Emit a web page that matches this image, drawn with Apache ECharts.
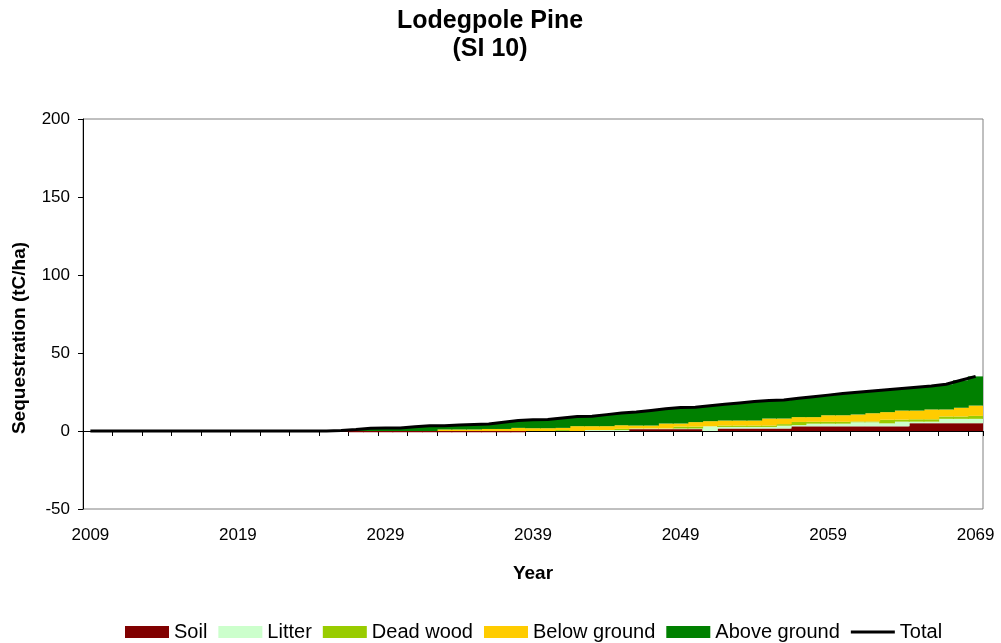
<!DOCTYPE html>
<html>
<head>
<meta charset="utf-8">
<script src="https://cdn.jsdelivr.net/npm/echarts@6/dist/echarts.min.js"></script>
<style>
html,body{margin:0;padding:0;background:#fff;}
#chart{width:1001px;height:643px;}
</style>
</head>
<body>
<div id="chart"></div>
<script>
var years = ["2009","2010","2011","2012","2013","2014","2015","2016","2017","2018",
"2019","2020","2021","2022","2023","2024","2025","2026","2027","2028",
"2029","2030","2031","2032","2033","2034","2035","2036","2037","2038",
"2039","2040","2041","2042","2043","2044","2045","2046","2047","2048",
"2049","2050","2051","2052","2053","2054","2055","2056","2057","2058",
"2059","2060","2061","2062","2063","2064","2065","2066","2067","2068","2069"];

var soil = [0,0,0,0,0,0,0,0,0,0,
-0.4,-0.4,-0.4,-0.4,-0.4,-0.4,-0.4,-0.4,-0.8,-0.8,
-0.8,-0.8,-0.8,-0.8,-0.8,-0.8,-0.8,-0.8,-0.8,-0.8,
0,0,0,0,0,0,0,1.2,1.2,1.2,
1.2,1.2,0,1.6,1.6,1.6,1.6,1.6,3.0,3.0,
3.0,3.0,3.0,3.0,3.0,3.0,5.0,5.0,5.0,5.0,5.0];

var litter = [0,0,0,0,0,0,0,0,0,0,
0,0,0,0,0,0,0,0,0,0,
0,0,0,0,0,0,0,0,0,0,
0,0,0,0,0.6,0.6,0.6,0.4,0.4,0.4,
0.4,0.4,3.0,1.0,1.0,1.0,1.0,1.8,0.8,1.7,
1.7,1.7,2.6,2.6,1.9,3.0,1.0,1.0,2.8,2.8,2.8];

var deadWood = [0,0,0,0,0,0,0,0,0,0,
0,0,0,0,0,0,0,0,0,0,
0,0,0,0,0,0,0,0,0,0,
0,0,0.6,0,0,0,0.8,0,0,0,
1.2,1.2,0,0.9,0.9,0.9,0.9,1.0,2.0,1.2,
1.2,1.2,0.5,0.5,2.3,1.3,1.5,1.5,1.5,1.5,1.9];

var belowGround = [0,0,0,0,0,0,0,0,0.3,0.3,
0,0,0,0,0,0,0,0,0,0,
0,0,0,0,1.0,1.0,1.0,1.3,1.3,2.0,
1.8,1.8,1.4,3.1,2.5,2.5,2.3,1.9,1.9,3.2,
2.0,2.9,3.3,3.2,3.2,3.2,4.5,3.6,3.1,3.0,
4.2,4.2,4.5,5.3,4.9,5.8,5.6,6.3,4.5,5.6,6.6];

var aboveGround = [0,0,0,0,0,0,0,0,0,0,
0,0,0,0,0,0,0,0.3,1.0,1.8,
2.0,2.0,2.7,3.3,2.4,2.8,3.2,3.2,4.3,4.7,
5.4,5.6,6.4,6.2,6.4,7.4,7.8,8.7,9.7,9.4,
10.2,9.6,9.9,10.4,11.3,12.2,11.6,11.8,12.1,13.1,
12.9,13.9,14.2,14.2,14.3,14.1,14.9,15.0,16.2,17.6,18.7];

var total = [0,0,0,0,0,0,0,0,0,0,
0,0,0,0,0,0,0,0.3,1.0,1.8,
2.0,2.0,2.7,3.3,3.4,3.8,4.2,4.5,5.6,6.7,
7.2,7.4,8.4,9.3,9.5,10.5,11.5,12.2,13.2,14.2,
15.0,15.3,16.2,17.1,18.0,18.9,19.6,19.8,21.0,22.0,
23.0,24.0,24.8,25.6,26.4,27.2,28.0,28.8,30.0,32.5,35.0];

var yTicks = {min: -50, max: 200, interval: 50};

var font = "'Liberation Sans', Arial, sans-serif";
var chart = echarts.init(document.getElementById('chart'), null, {renderer: 'canvas'});

function barSeries(name, data, color) {
  return {
    name: name, type: 'bar', stack: 'seq', data: data,
    barWidth: '106%', barGap: '0%',
    itemStyle: {color: color, borderWidth: 0},
    emphasis: {disabled: true},
    animation: false
  };
}

var option = {
  animation: false,
  backgroundColor: '#ffffff',
  textStyle: {fontFamily: font},
  grid: {left: 83, right: 18, top: 119, bottom: 134, show: true, borderColor: '#808080', borderWidth: 1, containLabel: false},
  graphic: [
    {type: 'text', x: 490, y: 7, style: {text: 'Lodegpole Pine\n(SI 10)', font: 'bold 25px ' + font, fill: '#000', align: 'center', verticalAlign: 'top', lineHeight: 28}},
    {type: 'text', x: 10, y: 338, rotation: Math.PI / 2, style: {text: 'Sequestration (tC/ha)', font: 'bold 19px ' + font, fill: '#000', align: 'center', verticalAlign: 'top'}}
  ],
  legend: {
    left: 120, top: 617,
    itemWidth: 44, itemHeight: 12, itemGap: 11,
    textStyle: {fontSize: 20, color: '#000', fontFamily: font},
    selectedMode: false,
    data: [
      {name: 'Soil', icon: 'rect'},
      {name: 'Litter', icon: 'rect'},
      {name: 'Dead wood', icon: 'rect'},
      {name: 'Below ground', icon: 'rect'},
      {name: 'Above ground', icon: 'rect'},
      {name: 'Total', icon: 'path://M0,0 M0,4.5 L44,4.5 L44,7.5 L0,7.5 Z M44,12'}
    ]
  },
  xAxis: [
    {
      type: 'category', data: years, boundaryGap: true, position: 'bottom',
      axisLine: {show: true, onZero: true, lineStyle: {color: '#000', width: 1}},
      axisTick: {show: true, interval: 1, length: 5, lineStyle: {color: '#000'}},
      axisLabel: {show: false},
      splitLine: {show: false}
    },
    {
      type: 'category', data: years, boundaryGap: true, position: 'bottom', gridIndex: 0,
      axisLine: {show: false, onZero: false},
      axisTick: {show: false},
      axisLabel: {show: true, interval: 9, margin: 18, fontSize: 17, color: '#000', fontFamily: font},
      name: 'Year', nameLocation: 'middle', nameGap: 55,
      nameTextStyle: {fontSize: 19, fontWeight: 'bold', color: '#000', fontFamily: font},
      splitLine: {show: false}
    }
  ],
  yAxis: {
    type: 'value', min: yTicks.min, max: yTicks.max, interval: yTicks.interval,
    axisLine: {show: true, lineStyle: {color: '#000', width: 1}},
    axisTick: {show: true, length: 5, lineStyle: {color: '#000'}},
    axisLabel: {fontSize: 17, color: '#000', margin: 13, fontFamily: font},
    splitLine: {show: false}
  },
  series: [
    barSeries('Soil', soil, '#800000'),
    barSeries('Litter', litter, '#ccffcc'),
    barSeries('Dead wood', deadWood, '#99cc00'),
    barSeries('Below ground', belowGround, '#ffcc00'),
    barSeries('Above ground', aboveGround, '#008000'),
    {
      name: 'Total', type: 'line', data: total, symbol: 'none', showSymbol: false,
      lineStyle: {color: '#000', width: 3}, itemStyle: {color: '#000'},
      z: 5, animation: false, emphasis: {disabled: true}
    }
  ]
};
chart.setOption(option);
</script>
</body>
</html>
